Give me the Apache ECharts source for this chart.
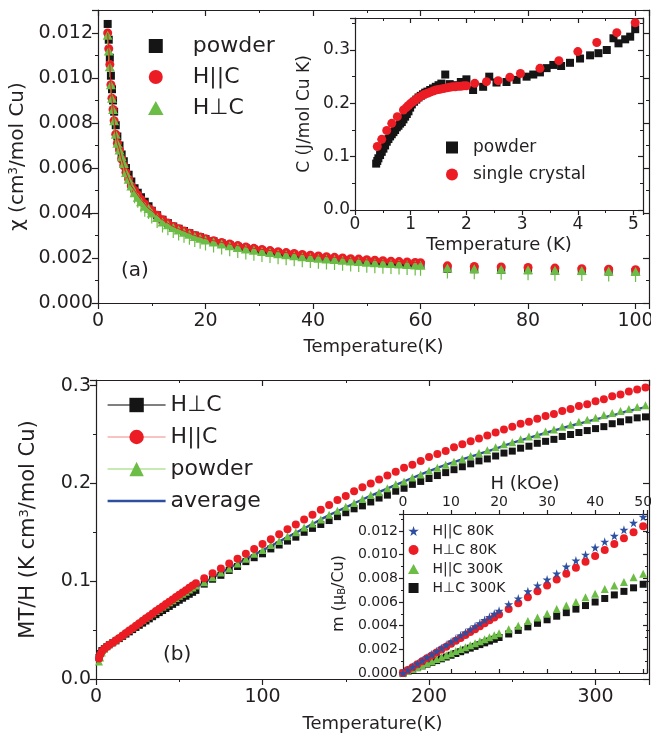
<!DOCTYPE html>
<html><head><meta charset="utf-8">
<script src="https://cdn.jsdelivr.net/npm/echarts@6/dist/echarts.min.js"></script>
<style>html,body{margin:0;padding:0;background:#fff}#c{width:651px;height:735px}</style>
</head><body><div id="c"></div>
<script>
// ---------- Panel (a): susceptibility ----------
const T_A = [1.8,2,2.2,2.4,2.6,2.8,3,3.3,3.6,4,4.4,4.8,5.2,5.7,6.2,6.8,7.4,8,8.7,9.4,10,11,12,13,14,15,16,17,18,19,20,21.5,23,24.5,26,27.5,29,30.5,32,33.5,35,36.5,38,39.5,41,42.5,44,45.5,47,48.5,50,51.5,53,54.5,56,57.5,59,60,65,70,75,80,85,90,95,100];
const CHI_POWDER = [0.0124,0.0117,0.0109,0.0101,0.0095,0.0090,0.0085,0.0079,0.0074,0.0070,0.0066,0.0063,0.0060,0.0057,0.0054,0.0051,0.0049,0.0047,0.0045,0.0043,0.0041,0.0039,0.0037,0.00355,0.0034,0.0033,0.0032,0.0031,0.0030,0.00292,0.00284,0.00274,0.00265,0.00257,0.0025,0.00243,0.00237,0.00231,0.00226,0.00221,0.00216,0.00212,0.00208,0.00204,0.0020,0.00197,0.00194,0.00191,0.00188,0.00185,0.00183,0.0018,0.00178,0.00176,0.00174,0.00172,0.0017,0.00169,0.00152,0.0015,0.00148,0.00146,0.00144,0.00142,0.0014,0.00138];
const CHI_PAR = [0.0120,0.0113,0.0106,0.0097,0.0091,0.0086,0.0081,0.0075,0.0071,0.0068,0.0064,0.0061,0.0058,0.0055,0.0052,0.0050,0.0048,0.0046,0.0044,0.0042,0.0041,0.0039,0.0037,0.00355,0.0034,0.0033,0.0032,0.0031,0.0030,0.00293,0.00286,0.00277,0.00269,0.00262,0.00255,0.00249,0.00243,0.00238,0.00233,0.00228,0.00224,0.0022,0.00216,0.00212,0.00209,0.00206,0.00203,0.0020,0.00197,0.00195,0.00192,0.0019,0.00188,0.00186,0.00184,0.00182,0.0018,0.00179,0.00165,0.00162,0.0016,0.00158,0.00155,0.00152,0.0015,0.00148];
const CHI_PERP = [0.0119,0.0112,0.0105,0.0097,0.0091,0.0086,0.0081,0.0075,0.0071,0.0068,0.0065,0.0062,0.0058,0.0055,0.0052,0.0049,0.0047,0.0045,0.0043,0.0042,0.0040,0.0038,0.0036,0.00348,0.00335,0.00324,0.00314,0.00305,0.00296,0.00288,0.0028,0.00271,0.00262,0.00254,0.00247,0.0024,0.00234,0.00229,0.00224,0.00219,0.00214,0.0021,0.00206,0.00202,0.00199,0.00196,0.00193,0.0019,0.00187,0.00184,0.00181,0.00179,0.00177,0.00175,0.00173,0.00171,0.00169,0.00168,0.00155,0.00152,0.0015,0.00148,0.00146,0.00144,0.00142,0.0014];

// ---------- Panel (a) inset: specific heat ----------
const C_POW_T = [0.38,0.40,0.42,0.45,0.48,0.51,0.54,0.57,0.60,0.63,0.66,0.69,0.72,0.75,0.78,0.81,0.84,0.87,0.90,0.93,0.96,0.99,1.02,1.06,1.10,1.14,1.18,1.22,1.26,1.30,1.35,1.40,1.45,1.50,1.55,1.62,1.70,1.80,1.90,2.0,2.12,2.30,2.41,2.54,2.72,2.90,3.08,3.20,3.32,3.44,3.56,3.70,3.86,4.04,4.22,4.37,4.52,4.64,4.73,4.85,4.94,5.03];
const C_POW = [0.087,0.092,0.097,0.103,0.109,0.115,0.121,0.128,0.133,0.138,0.142,0.146,0.150,0.155,0.158,0.162,0.165,0.170,0.175,0.180,0.185,0.192,0.198,0.203,0.207,0.211,0.214,0.217,0.220,0.222,0.225,0.228,0.231,0.234,0.237,0.254,0.236,0.234,0.240,0.245,0.225,0.231,0.250,0.239,0.240,0.244,0.250,0.254,0.258,0.266,0.272,0.270,0.276,0.284,0.290,0.294,0.300,0.322,0.3125,0.320,0.325,0.339];
const C_SC_T = [0.40,0.48,0.57,0.66,0.76,0.87,0.92,0.96,1.0,1.04,1.08,1.12,1.16,1.20,1.25,1.30,1.35,1.40,1.45,1.50,1.55,1.60,1.65,1.70,1.75,1.80,1.85,1.90,1.95,2.0,2.15,2.36,2.57,2.78,2.97,3.32,3.66,4.0,4.34,4.70,5.03];
const C_SC = [0.119,0.1325,0.149,0.1625,0.175,0.1875,0.192,0.196,0.200,0.203,0.206,0.209,0.212,0.214,0.217,0.219,0.221,0.223,0.225,0.226,0.227,0.228,0.229,0.230,0.231,0.231,0.232,0.232,0.233,0.233,0.2375,0.2406,0.2425,0.249,0.256,0.2656,0.280,0.297,0.314,0.3325,0.351];

// ---------- Panel (b): MT/H ----------
const T_B = [1.8,2.5,3.5,5,6.5,8,10,12,14,16,18,20,22,24,26,28,30,32,34,36,38,40,42,44,46,48,50,52,54,56,58,60,65,70,75,80,85,90,95,100,105,110,115,120,125,130,135,140,145,150,155,160,165,170,175,180,185,190,195,200,205,210,215,220,225,230,235,240,245,250,255,260,265,270,275,280,285,290,295,300,305,310,315,320,325,330];
const MTH_PERP = [0.022,0.026,0.029,0.031,0.033,0.035,0.037,0.039,0.0413,0.0436,0.0459,0.0482,0.0505,0.0527,0.0549,0.0571,0.0593,0.0615,0.0637,0.0658,0.0679,0.07,0.0721,0.0742,0.0763,0.0784,0.0805,0.0826,0.0846,0.0866,0.0886,0.0906,0.097,0.102,0.106,0.111,0.115,0.120,0.124,0.128,0.133,0.137,0.141,0.145,0.150,0.154,0.158,0.162,0.166,0.170,0.174,0.177,0.181,0.185,0.188,0.192,0.195,0.199,0.202,0.205,0.208,0.211,0.214,0.217,0.220,0.223,0.225,0.228,0.231,0.233,0.236,0.238,0.241,0.243,0.245,0.248,0.250,0.252,0.254,0.256,0.258,0.261,0.263,0.265,0.267,0.268];
const MTH_PAR = [0.021,0.025,0.028,0.031,0.033,0.035,0.037,0.0395,0.042,0.0445,0.047,0.0495,0.052,0.0545,0.057,0.0595,0.062,0.0645,0.067,0.0695,0.0718,0.0742,0.0766,0.079,0.0814,0.0838,0.0862,0.0885,0.0908,0.0932,0.0955,0.0978,0.103,0.108,0.113,0.118,0.123,0.128,0.133,0.138,0.143,0.148,0.153,0.158,0.163,0.168,0.173,0.178,0.183,0.187,0.192,0.196,0.200,0.204,0.208,0.212,0.216,0.219,0.223,0.227,0.230,0.233,0.237,0.240,0.243,0.246,0.249,0.252,0.255,0.258,0.261,0.263,0.266,0.269,0.271,0.274,0.276,0.279,0.281,0.284,0.286,0.289,0.291,0.294,0.296,0.298];
const MTH_POW = [0.018,0.022,0.027,0.031,0.034,0.036,0.038,0.0405,0.043,0.0455,0.048,0.0505,0.053,0.0555,0.058,0.0603,0.0627,0.065,0.0673,0.0696,0.0718,0.074,0.0762,0.0784,0.0806,0.0828,0.085,0.0872,0.0893,0.0914,0.0935,0.0955,0.099,0.104,0.109,0.113,0.118,0.123,0.128,0.132,0.137,0.141,0.146,0.150,0.155,0.159,0.163,0.168,0.172,0.176,0.180,0.184,0.188,0.191,0.195,0.199,0.202,0.206,0.209,0.213,0.216,0.219,0.222,0.225,0.228,0.231,0.234,0.237,0.240,0.242,0.245,0.248,0.250,0.253,0.255,0.258,0.260,0.263,0.265,0.267,0.270,0.272,0.274,0.276,0.278,0.280];
const AVG_T = [60,70,80,90,100,110,120,130,140,150,160,170,180,190,200,210,220,230,240,250,260,270,280,290,300,310,320,330];
const MTH_AVG = [0.0935,0.1035,0.1135,0.1225,0.1315,0.1405,0.1495,0.1585,0.1675,0.1755,0.1835,0.191,0.1985,0.2055,0.2125,0.219,0.2245,0.230,0.2355,0.2415,0.2465,0.2515,0.2565,0.261,0.2655,0.2695,0.274,0.278];

// ---------- Panel (b) inset: magnetization ----------
const H_KOE = [0,1,2,3,4,5,6,7,8,9,10,11,12,13,14,15,16,17,18,19,20,22,24,26,28,30,32,34,36,38,40,42,44,46,48,50];
const M_PAR80 = [0,0.00026,0.00053,0.00079,0.00105,0.00132,0.00158,0.00184,0.0021,0.00237,0.00263,0.0029,0.00316,0.00342,0.00368,0.00395,0.00421,0.00447,0.00474,0.005,0.00526,0.0058,0.0063,0.0069,0.0074,0.0079,0.0084,0.0090,0.0095,0.0100,0.0106,0.0111,0.0116,0.0121,0.0127,0.0132];
const M_PERP80 = [0,0.00025,0.00049,0.00074,0.00099,0.00124,0.00148,0.00173,0.00198,0.00222,0.00247,0.00272,0.00296,0.00321,0.00346,0.0037,0.00395,0.0042,0.00445,0.0047,0.00494,0.0054,0.0059,0.0064,0.0069,0.0074,0.0079,0.0084,0.0089,0.0094,0.0099,0.0104,0.0109,0.0114,0.0119,0.0124];
const M_PAR300 = [0,0.00017,0.00034,0.0005,0.00067,0.00084,0.001,0.00118,0.00134,0.00151,0.00168,0.00185,0.00202,0.00218,0.00235,0.00252,0.00269,0.00286,0.00302,0.00319,0.00336,0.0037,0.0040,0.0044,0.0047,0.0050,0.0054,0.0057,0.0060,0.0064,0.0067,0.0071,0.0074,0.0077,0.0081,0.0084];
const M_PERP300 = [0,0.00015,0.0003,0.00045,0.0006,0.00075,0.0009,0.00105,0.0012,0.00135,0.0015,0.00165,0.0018,0.00195,0.0021,0.00225,0.0024,0.00255,0.0027,0.00285,0.003,0.0033,0.0036,0.0039,0.0042,0.0045,0.0048,0.0051,0.0054,0.0057,0.0060,0.0063,0.0066,0.0069,0.0072,0.0075];

const LABELS = {
  aPow:'powder', aPar:'H||C', aPerp:'H\u22A5C',
  cPow:'powder', cSC:'single crystal',
  bPerp:'H\u22A5C', bPar:'H||C', bPow:'powder', bAvg:'average',
  m1:'H||C 80K', m2:'H\u22A5C 80K', m3:'H||C 300K', m4:'H\u22A5C 300K'
};

// ---------- styling ----------
const FONT = 'DejaVu Sans';
const INK = '#231f20';
const RED = '#ec1c24';
const GREEN = '#6cbd45';
const BLUE = '#2e4f9f';
const BLACK = '#151515';
const SQ = 'path://M0,0H10V10H0Z';
const TRI = 'path://M5,0L10,9L0,9Z';
const TRI_BAR = 'path://M5,0L10,9L0,9Z M4.4,9L5.6,9L5.6,15L4.4,15Z';
const STAR = 'path://M50,0L61,35L98,35L68,57L79,91L50,70L21,91L32,57L2,35L39,35Z';

const zip = (xs, ys) => xs.map((x, i) => [x, ys[i]]);
const fmt = (dec, step) => v => {
  const k = v / step;
  return Math.abs(k - Math.round(k)) < 1e-6 ? v.toFixed(dec) : '';
};

const xAxes = [], yAxes = [];
function addAxes(g, c) {
  const line = {show: true, onZero: false, lineStyle: {color: INK, width: 1.2}};
  const tick = inside => ({show: true, inside, length: c.tick, lineStyle: {color: INK, width: 1.2}});
  const minor = {show: true, splitNumber: 2, length: Math.round(c.tick * 0.55), lineStyle: {color: INK, width: 1}};
  const base = (max, interval) => ({type: 'value', gridIndex: g, min: 0, max, interval, axisLine: line, splitLine: {show: false}, minorTick: minor});
  xAxes.push(Object.assign(base(c.xmax, c.xint), {
    position: c.xTop ? 'top' : 'bottom', axisTick: tick(false),
    axisLabel: {show: true, margin: c.xMargin, fontFamily: FONT, fontSize: c.fs, color: INK, formatter: fmt(0, c.xint)},
    name: c.xName, nameLocation: 'middle', nameGap: c.xNameGap,
    nameTextStyle: {fontFamily: FONT, fontSize: c.xNameFs, color: INK}
  }));
  xAxes.push(Object.assign(base(c.xmax, c.xint), {
    position: c.xTop ? 'bottom' : 'top', axisTick: tick(true), axisLabel: {show: false}
  }));
  yAxes.push(Object.assign(base(c.ymax, c.yint), {
    position: 'left', axisTick: tick(false),
    axisLabel: {show: true, margin: c.yMargin, fontFamily: FONT, fontSize: c.fs, color: INK, formatter: fmt(c.ydec, c.yint)},
    name: c.yName, nameLocation: 'middle', nameGap: c.yNameGap,
    nameTextStyle: {fontFamily: FONT, fontSize: c.yNameFs, color: INK,
      rich: {sup: {fontFamily: FONT, fontSize: Math.round(c.yNameFs * 0.6), color: INK, verticalAlign: 'top', lineHeight: c.yNameFs},
             sub: {fontFamily: FONT, fontSize: Math.round(c.yNameFs * 0.6), color: INK, verticalAlign: 'bottom', lineHeight: c.yNameFs}}}
  }));
  yAxes.push(Object.assign(base(c.ymax, c.yint), {
    position: 'right', axisTick: tick(true), axisLabel: {show: false}
  }));
}

addAxes(0, {xmax: 102.5, xint: 20, ymax: 0.01302, yint: 0.002, ydec: 3, fs: 19, tick: 6, xMargin: 9, yMargin: 5,
  xName: 'Temperature(K)', xNameGap: 35, xNameFs: 18, yName: '\u03C7 (cm{sup|3}/mol Cu)', yNameGap: 61, yNameFs: 20});
addAxes(1, {xmax: 5.17, xint: 1, ymax: 0.36, yint: 0.1, ydec: 1, fs: 17, tick: 5, xMargin: 6, yMargin: 5,
  xName: 'Temperature (K)', xNameGap: 26, xNameFs: 18, yName: 'C (J/mol Cu K)', yNameGap: 42, yNameFs: 17});
addAxes(2, {xmax: 332.1, xint: 100, ymax: 0.3057, yint: 0.1, ydec: 1, fs: 19, tick: 6, xMargin: 9, yMargin: 5,
  xName: 'Temperature(K)', xNameGap: 36, xNameFs: 18, yName: 'MT/H (K cm{sup|3}/mol Cu)', yNameGap: 57, yNameFs: 21});
addAxes(3, {xmax: 50.8, xint: 10, ymax: 0.01344, yint: 0.002, ydec: 3, fs: 14, tick: 4, xMargin: 5, yMargin: 5, xTop: true,
  xName: 'H (kOe)', xNameGap: 21, xNameFs: 18, yName: 'm (\u03BC{sub|B}/Cu)', yNameGap: 56, yNameFs: 16});

const legendBase = {orient: 'vertical', symbolKeepAspect: true, selectedMode: false, padding: 0,
  formatter: n => LABELS[n]};

const option = {
  animation: false,
  backgroundColor: '#fff',
  grid: [
    {left: 98, top: 10, width: 551, height: 293, outerBoundsMode: 'none', containLabel: false},
    {left: 355, top: 18, width: 288, height: 192, outerBoundsMode: 'none', containLabel: false},
    {left: 96, top: 380, width: 553, height: 299, outerBoundsMode: 'none', containLabel: false},
    {left: 403, top: 514, width: 244, height: 159, outerBoundsMode: 'none', containLabel: false}
  ],
  xAxis: xAxes,
  yAxis: yAxes,
  legend: [
    Object.assign({}, legendBase, {left: 148, top: 35, itemWidth: 64, itemHeight: 14, itemGap: 9,
      textStyle: {fontFamily: FONT, fontSize: 22, color: INK},
      data: [{name: 'aPow', icon: SQ}, {name: 'aPar', icon: 'circle'}, {name: 'aPerp', icon: TRI}]}),
    Object.assign({}, legendBase, {left: 446, top: 139, itemWidth: 32, itemHeight: 12, itemGap: 10,
      textStyle: {fontFamily: FONT, fontSize: 17, color: INK},
      data: [{name: 'cPow', icon: SQ}, {name: 'cSC', icon: 'circle'}]}),
    Object.assign({}, legendBase, {left: 107, top: 394, itemWidth: 58, itemHeight: 18, itemGap: 10,
      textStyle: {fontFamily: FONT, fontSize: 22, color: INK},
      data: [
        {name: 'bPerp', lineStyle: {color: '#000', width: 1, opacity: 1, type: 'solid'}},
        {name: 'bPar', lineStyle: {color: '#f08a8a', width: 1.2, opacity: 1, type: 'solid'}},
        {name: 'bPow', lineStyle: {color: '#8fd36b', width: 1.2, opacity: 1, type: 'solid'}},
        {name: 'bAvg', icon: 'path://M0,0H58V2.6H0Z'}
      ]}),
    Object.assign({}, legendBase, {left: 408, top: 524, itemWidth: 28, itemHeight: 10, itemGap: 5,
      textStyle: {fontFamily: FONT, fontSize: 14, color: INK},
      data: [{name: 'm1', icon: STAR}, {name: 'm2', icon: 'circle'}, {name: 'm3', icon: TRI}, {name: 'm4', icon: SQ}]})
  ],
  graphic: [
    {type: 'text', left: 121, top: 261, style: {text: '(a)', font: '20px "DejaVu Sans"', fill: INK}},
    {type: 'text', left: 163, top: 645, style: {text: '(b)', font: '20px "DejaVu Sans"', fill: INK}}
  ],
  series: [
    // panel (a)
    {name: 'aPow', type: 'scatter', xAxisIndex: 0, yAxisIndex: 0, symbol: 'rect', symbolSize: 8,
      itemStyle: {color: BLACK, opacity: 1}, data: zip(T_A, CHI_POWDER)},
    {name: 'aPar', type: 'scatter', xAxisIndex: 0, yAxisIndex: 0, symbol: 'circle', symbolSize: 9,
      itemStyle: {color: RED, opacity: 1}, data: zip(T_A, CHI_PAR)},
    {name: 'aPerp', type: 'scatter', xAxisIndex: 0, yAxisIndex: 0, symbol: TRI_BAR, symbolSize: [10, 15], symbolOffset: [0, 3],
      itemStyle: {color: GREEN, opacity: 1}, data: zip(T_A, CHI_PERP)},
    {name: 'aParLine', type: 'line', xAxisIndex: 0, yAxisIndex: 0, symbol: 'none',
      lineStyle: {color: RED, width: 1}, data: zip(T_A, CHI_PAR).filter(p => p[0] <= 60)},
    // panel (a) inset
    {name: 'cPow', type: 'scatter', xAxisIndex: 2, yAxisIndex: 2, symbol: 'rect', symbolSize: 8,
      itemStyle: {color: BLACK, opacity: 1}, data: zip(C_POW_T, C_POW)},
    {name: 'cSC', type: 'scatter', xAxisIndex: 2, yAxisIndex: 2, symbol: 'circle', symbolSize: 9,
      itemStyle: {color: RED, opacity: 1}, data: zip(C_SC_T, C_SC)},
    // panel (b)
    {name: 'bPerp', type: 'line', xAxisIndex: 4, yAxisIndex: 4, symbol: 'rect', symbolSize: 7, showAllSymbol: true,
      itemStyle: {color: BLACK, opacity: 1}, lineStyle: {color: BLACK, opacity: 0, width: 0}, data: zip(T_B, MTH_PERP)},
    {name: 'bPow', type: 'line', xAxisIndex: 4, yAxisIndex: 4, symbol: 'triangle', symbolSize: 8, showAllSymbol: true,
      itemStyle: {color: GREEN, opacity: 1}, lineStyle: {color: GREEN, opacity: 0, width: 0}, data: zip(T_B, MTH_POW)},
    {name: 'bPar', type: 'line', xAxisIndex: 4, yAxisIndex: 4, symbol: 'circle', symbolSize: 8, showAllSymbol: true,
      itemStyle: {color: RED, opacity: 1}, lineStyle: {color: RED, opacity: 0, width: 0}, data: zip(T_B, MTH_PAR)},
    {name: 'bAvg', type: 'line', xAxisIndex: 4, yAxisIndex: 4, symbol: 'none', smooth: true,
      itemStyle: {color: BLUE}, lineStyle: {color: BLUE, width: 2.4}, data: zip(AVG_T, MTH_AVG)},
    // panel (b) inset
    {name: 'm4', type: 'scatter', xAxisIndex: 6, yAxisIndex: 6, symbol: 'rect', symbolSize: 7,
      itemStyle: {color: BLACK, opacity: 1}, data: zip(H_KOE, M_PERP300)},
    {name: 'm3', type: 'scatter', xAxisIndex: 6, yAxisIndex: 6, symbol: 'triangle', symbolSize: 8,
      itemStyle: {color: GREEN, opacity: 1}, data: zip(H_KOE, M_PAR300)},
    {name: 'm2', type: 'scatter', xAxisIndex: 6, yAxisIndex: 6, symbol: 'circle', symbolSize: 8,
      itemStyle: {color: RED, opacity: 1}, data: zip(H_KOE, M_PERP80)},
    {name: 'm1', type: 'scatter', xAxisIndex: 6, yAxisIndex: 6, symbol: STAR, symbolSize: 9,
      itemStyle: {color: BLUE, opacity: 1}, data: zip(H_KOE, M_PAR80)}
  ]
};

const chart = echarts.init(document.getElementById('c'), null, {renderer: 'canvas', width: 651, height: 735});
chart.setOption(option);
</script>
</body></html>
